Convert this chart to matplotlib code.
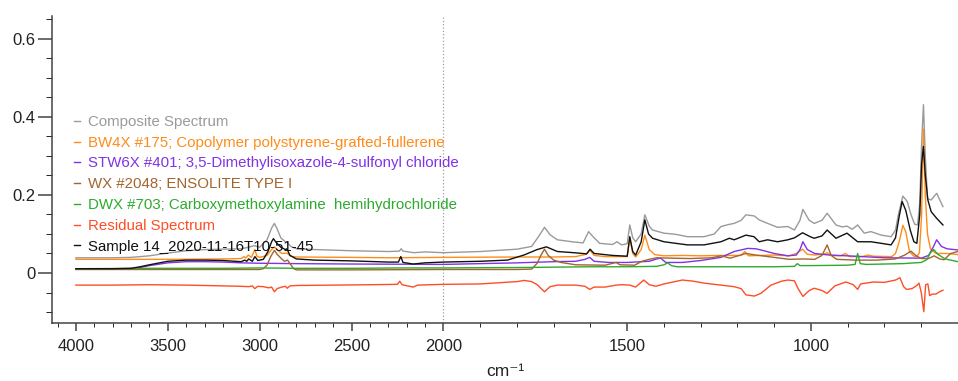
import numpy as np
import matplotlib
matplotlib.use('Agg')
import matplotlib.pyplot as plt
from matplotlib.ticker import FixedLocator, FixedFormatter

plt.rcParams['font.family'] = ['Liberation Sans', 'DejaVu Sans']

# (wavenumber cm-1, absorbance)
composite = [
    (4000, 0.039), (3800, 0.039), (3700, 0.040), (3600, 0.044), (3500, 0.051), (3400, 0.057),
    (3300, 0.060), (3200, 0.061), (3100, 0.062), (3060, 0.066), (3030, 0.070), (3000, 0.066),
    (2960, 0.085), (2935, 0.115), (2920, 0.127), (2905, 0.113), (2885, 0.090), (2860, 0.080),
    (2850, 0.078), (2830, 0.068), (2800, 0.062), (2700, 0.060), (2500, 0.057), (2300, 0.055),
    (2240, 0.056), (2230, 0.062), (2220, 0.056), (2160, 0.052), (2100, 0.054), (2000, 0.052),
    (1900, 0.055), (1800, 0.061), (1760, 0.068), (1740, 0.095), (1725, 0.117), (1710, 0.098),
    (1690, 0.085), (1650, 0.080), (1620, 0.077), (1605, 0.106), (1595, 0.095), (1575, 0.076),
    (1540, 0.073), (1528, 0.080), (1515, 0.072), (1500, 0.075), (1493, 0.123), (1485, 0.090),
    (1477, 0.080), (1462, 0.100), (1452, 0.149), (1440, 0.120), (1431, 0.110), (1400, 0.102),
    (1368, 0.099), (1336, 0.093), (1291, 0.093), (1263, 0.100), (1245, 0.119), (1225, 0.124),
    (1209, 0.127), (1190, 0.135), (1177, 0.149), (1154, 0.146), (1141, 0.136), (1118, 0.127),
    (1091, 0.117), (1063, 0.119), (1045, 0.110), (1030, 0.135), (1022, 0.163), (1005, 0.135),
    (991, 0.127), (970, 0.135), (956, 0.153), (932, 0.123), (915, 0.118), (902, 0.120),
    (888, 0.112), (873, 0.123), (855, 0.102), (837, 0.106), (809, 0.097), (782, 0.093),
    (770, 0.110), (762, 0.150), (750, 0.197), (738, 0.183), (728, 0.150), (718, 0.125),
    (710, 0.123), (704, 0.180), (699, 0.330), (694, 0.431), (689, 0.300), (683, 0.190),
    (673, 0.187), (658, 0.204), (641, 0.170),
]

bw4x = [
    (4000, 0.035), (3500, 0.035), (3200, 0.036), (3100, 0.037), (3085, 0.042), (3075, 0.038),
    (3062, 0.046), (3045, 0.040), (3026, 0.060), (3015, 0.043), (3000, 0.040), (2960, 0.045),
    (2935, 0.060), (2920, 0.067), (2905, 0.060), (2880, 0.050), (2852, 0.051), (2830, 0.043),
    (2800, 0.041), (2500, 0.040), (2300, 0.039), (2000, 0.040),
    (1800, 0.041), (1700, 0.041), (1640, 0.042), (1612, 0.048), (1602, 0.059), (1590, 0.045),
    (1560, 0.042), (1500, 0.042), (1493, 0.090), (1485, 0.050), (1477, 0.041), (1462, 0.060),
    (1452, 0.097), (1440, 0.060), (1425, 0.047), (1400, 0.044), (1350, 0.045), (1300, 0.044),
    (1250, 0.045), (1190, 0.045), (1180, 0.055), (1170, 0.044), (1100, 0.046), (1060, 0.044),
    (1040, 0.050), (1023, 0.061), (1010, 0.048), (990, 0.046), (965, 0.048), (956, 0.052),
    (945, 0.045), (920, 0.044), (906, 0.050), (895, 0.042), (860, 0.042), (845, 0.046),
    (830, 0.043), (780, 0.042), (770, 0.050), (760, 0.080), (750, 0.122), (742, 0.105),
    (732, 0.055), (720, 0.043), (712, 0.042), (705, 0.052), (699, 0.150), (694, 0.368),
    (689, 0.200), (683, 0.100), (675, 0.062), (660, 0.050), (630, 0.050), (600, 0.047),
]

stw6x = [
    (4000, 0.010), (3800, 0.010), (3700, 0.011), (3650, 0.014), (3600, 0.019), (3500, 0.026),
    (3400, 0.029), (3300, 0.029), (3200, 0.028), (3100, 0.026), (3000, 0.025), (2800, 0.024),
    (2500, 0.023), (2000, 0.022),
    (1800, 0.026), (1700, 0.029), (1640, 0.030), (1615, 0.035), (1602, 0.040), (1590, 0.030),
    (1550, 0.027), (1500, 0.027), (1440, 0.030), (1420, 0.036), (1409, 0.038), (1395, 0.027),
    (1350, 0.027), (1300, 0.032), (1245, 0.040), (1209, 0.055), (1172, 0.063), (1150, 0.062),
    (1136, 0.059), (1100, 0.050), (1063, 0.044), (1040, 0.046), (1030, 0.060), (1022, 0.080),
    (1010, 0.060), (990, 0.050), (950, 0.046), (880, 0.043), (800, 0.039), (700, 0.038),
    (680, 0.045), (668, 0.065), (658, 0.085), (645, 0.068), (630, 0.062), (600, 0.059),
]

wx = [
    (4000, 0.009), (3500, 0.009), (3000, 0.009), (2980, 0.011), (2960, 0.020), (2940, 0.042),
    (2920, 0.058), (2905, 0.048), (2880, 0.036), (2865, 0.030), (2848, 0.033), (2835, 0.024),
    (2815, 0.011), (2800, 0.008), (2500, 0.008), (2000, 0.009),
    (1800, 0.009), (1760, 0.010), (1745, 0.025), (1735, 0.045), (1725, 0.061), (1715, 0.045),
    (1700, 0.033), (1680, 0.027), (1640, 0.021), (1560, 0.020), (1530, 0.027), (1520, 0.021),
    (1480, 0.020), (1460, 0.030), (1440, 0.035), (1420, 0.039), (1380, 0.038), (1330, 0.037),
    (1270, 0.039), (1245, 0.044), (1220, 0.038), (1177, 0.050), (1150, 0.046), (1100, 0.040),
    (1060, 0.035), (1020, 0.036), (990, 0.035), (970, 0.045), (956, 0.072), (945, 0.045),
    (930, 0.035), (880, 0.033), (820, 0.033), (770, 0.036), (745, 0.046), (728, 0.056),
    (715, 0.045), (700, 0.037), (680, 0.037), (665, 0.044), (650, 0.036), (638, 0.034),
    (620, 0.050), (600, 0.055),
]

dwx = [
    (4000, 0.011), (3600, 0.012), (3200, 0.012), (3000, 0.013), (2800, 0.012), (2500, 0.012),
    (2230, 0.013), (2000, 0.013),
    (1800, 0.014), (1700, 0.015), (1600, 0.016), (1500, 0.016), (1420, 0.017), (1400, 0.021),
    (1390, 0.026), (1380, 0.019), (1365, 0.016), (1200, 0.016), (1100, 0.016), (1045, 0.017),
    (1037, 0.024), (1030, 0.019), (1000, 0.019), (900, 0.020), (880, 0.022), (873, 0.050),
    (866, 0.024), (850, 0.022), (750, 0.024), (700, 0.027), (685, 0.034), (675, 0.052),
    (666, 0.060), (655, 0.048), (635, 0.036), (600, 0.029),
]

residual = [
    (4000, -0.031), (3800, -0.031), (3600, -0.030), (3400, -0.031), (3200, -0.033), (3100, -0.034),
    (3060, -0.035), (3040, -0.033), (3026, -0.040), (3010, -0.034), (2980, -0.035), (2950, -0.038),
    (2935, -0.036), (2920, -0.048), (2905, -0.040), (2880, -0.036), (2860, -0.034), (2850, -0.039),
    (2835, -0.033), (2800, -0.032), (2600, -0.031), (2400, -0.030), (2250, -0.029), (2238, -0.021),
    (2225, -0.030), (2165, -0.036), (2140, -0.031), (2000, -0.029),
    (1900, -0.028), (1800, -0.022), (1780, -0.019), (1760, -0.022), (1745, -0.030), (1725, -0.048),
    (1710, -0.035), (1690, -0.031), (1640, -0.031), (1615, -0.034), (1602, -0.042), (1590, -0.036),
    (1560, -0.036), (1530, -0.031), (1515, -0.030), (1493, -0.031), (1477, -0.036), (1455, -0.018),
    (1440, -0.030), (1422, -0.034), (1400, -0.028), (1350, -0.018), (1320, -0.021), (1290, -0.026),
    (1245, -0.031), (1209, -0.035), (1190, -0.040), (1177, -0.056), (1154, -0.059), (1136, -0.052),
    (1109, -0.031), (1080, -0.021), (1063, -0.018), (1045, -0.020), (1035, -0.040), (1022, -0.060),
    (1005, -0.045), (991, -0.039), (970, -0.045), (956, -0.052), (935, -0.033), (905, -0.023),
    (885, -0.030), (873, -0.042), (865, -0.028), (830, -0.023), (800, -0.024), (770, -0.018),
    (758, -0.012), (748, -0.035), (740, -0.042), (725, -0.040), (712, -0.032), (706, -0.026),
    (700, -0.050), (693, -0.099), (688, -0.030), (682, -0.028), (677, -0.058), (670, -0.054),
    (660, -0.054), (650, -0.048), (641, -0.044),
]

sample = [
    (4000, 0.011), (3800, 0.011), (3700, 0.012), (3650, 0.016), (3600, 0.021), (3500, 0.030),
    (3400, 0.033), (3300, 0.033), (3200, 0.032), (3100, 0.029), (3082, 0.033), (3070, 0.030),
    (3060, 0.036), (3040, 0.030), (3026, 0.042), (3010, 0.032), (2980, 0.035), (2955, 0.055),
    (2935, 0.080), (2925, 0.088), (2910, 0.078), (2885, 0.066), (2860, 0.060), (2852, 0.062),
    (2835, 0.045), (2800, 0.036), (2700, 0.033), (2500, 0.031), (2300, 0.028), (2245, 0.028),
    (2232, 0.042), (2220, 0.027), (2165, 0.023), (2100, 0.026), (2000, 0.028),
    (1900, 0.030), (1826, 0.033), (1781, 0.046), (1745, 0.060), (1720, 0.067), (1690, 0.055),
    (1645, 0.052), (1610, 0.049), (1601, 0.061), (1590, 0.050), (1540, 0.045), (1500, 0.043),
    (1493, 0.093), (1485, 0.055), (1477, 0.046), (1462, 0.080), (1452, 0.136), (1442, 0.100),
    (1431, 0.089), (1400, 0.080), (1368, 0.076), (1336, 0.072), (1291, 0.072), (1245, 0.080),
    (1222, 0.089), (1209, 0.085), (1177, 0.097), (1155, 0.093), (1141, 0.080), (1118, 0.085),
    (1091, 0.080), (1063, 0.085), (1045, 0.090), (1023, 0.103), (1000, 0.092), (991, 0.089),
    (970, 0.095), (956, 0.110), (932, 0.089), (902, 0.102), (873, 0.080), (837, 0.080),
    (809, 0.076), (782, 0.072), (770, 0.090), (760, 0.145), (752, 0.183), (742, 0.160),
    (730, 0.110), (720, 0.080), (712, 0.076), (704, 0.150), (699, 0.280), (694, 0.324),
    (689, 0.250), (682, 0.187), (673, 0.157), (658, 0.140), (641, 0.123),
]

series = [
    ('Composite Spectrum', '#9a9a9a', composite),
    ('BW4X #175; Copolymer polystyrene-grafted-fullerene', '#ff8c1a', bw4x),
    ('STW6X #401; 3,5-Dimethylisoxazole-4-sulfonyl chloride', '#8033e6', stw6x),
    ('WX #2048; ENSOLITE TYPE I', '#a3652e', wx),
    ('DWX #703; Carboxymethoxylamine  hemihydrochloride', '#2eaa2e', dwx),
    ('Residual Spectrum', '#ff4d26', residual),
    ('Sample 14_2020-11-16T10-51-45', '#111111', sample),
]

x_major = [4000, 3500, 3000, 2500, 2000, 1500, 1000]
x_minor = list(range(4100, 599, -100))
y_major = [0, 0.2, 0.4, 0.6]
y_major_labels = ['0', '0.2', '0.4', '0.6']
y_minor = [-0.1, -0.05, 0.05, 0.1, 0.15, 0.25, 0.3, 0.35, 0.45, 0.5, 0.55, 0.65]


# wavenumber axis: below 2000 cm-1 the scale is stretched twofold
def fwd(x):
    x = np.asarray(x, dtype=float)
    return np.where(x >= 2000, x, 2 * x - 2000)


def inv(x):
    x = np.asarray(x, dtype=float)
    return np.where(x >= 2000, x, (x + 2000) / 2)


fig = plt.figure(figsize=(9.58, 3.81), dpi=100)
ax = fig.add_axes([52 / 958, 58 / 381, 906 / 958, 307 / 381])
ax.set_xscale('function', functions=(fwd, inv))

ax.axvline(2000, color='#a0a0a0', ls=':', lw=0.9, zorder=0)

for label, color, pts in series:
    arr = np.array(pts)
    ax.plot(arr[:, 0], arr[:, 1], color=color, lw=1.0, label=label)

ax.set_xlim(4130, 600)
ax.set_ylim(-0.128, 0.658)

ax.xaxis.set_major_locator(FixedLocator(x_major))
ax.xaxis.set_minor_locator(FixedLocator(x_minor))
ax.yaxis.set_major_locator(FixedLocator(y_major))
ax.yaxis.set_major_formatter(FixedFormatter(y_major_labels))
ax.yaxis.set_minor_locator(FixedLocator(y_minor))

for side in ('top', 'right'):
    ax.spines[side].set_visible(False)
for side in ('left', 'bottom'):
    ax.spines[side].set_color('#444444')
    ax.spines[side].set_linewidth(1.1)

ax.tick_params(axis='both', colors='#444444', labelcolor='#222222', labelsize=12, width=1.1)
ax.tick_params(axis='y', which='major', length=10, pad=2)
ax.tick_params(axis='y', which='minor', length=4.3)
ax.tick_params(axis='x', which='major', length=5.5, pad=6)
ax.tick_params(axis='x', which='minor', length=3.2)

ax.set_xlabel('cm\u207b\u00b9', fontsize=12.5, color='#222222', labelpad=7)

ax.legend(loc='upper left', bbox_to_anchor=(74 / 958, 1 - 115 / 381),
          bbox_transform=fig.transFigure, frameon=False, fontsize=10.8,
          handlelength=0.4, handletextpad=0.5, labelspacing=0.45,
          borderpad=0, borderaxespad=0, labelcolor='linecolor')

fig.savefig('out.png', dpi=100)
